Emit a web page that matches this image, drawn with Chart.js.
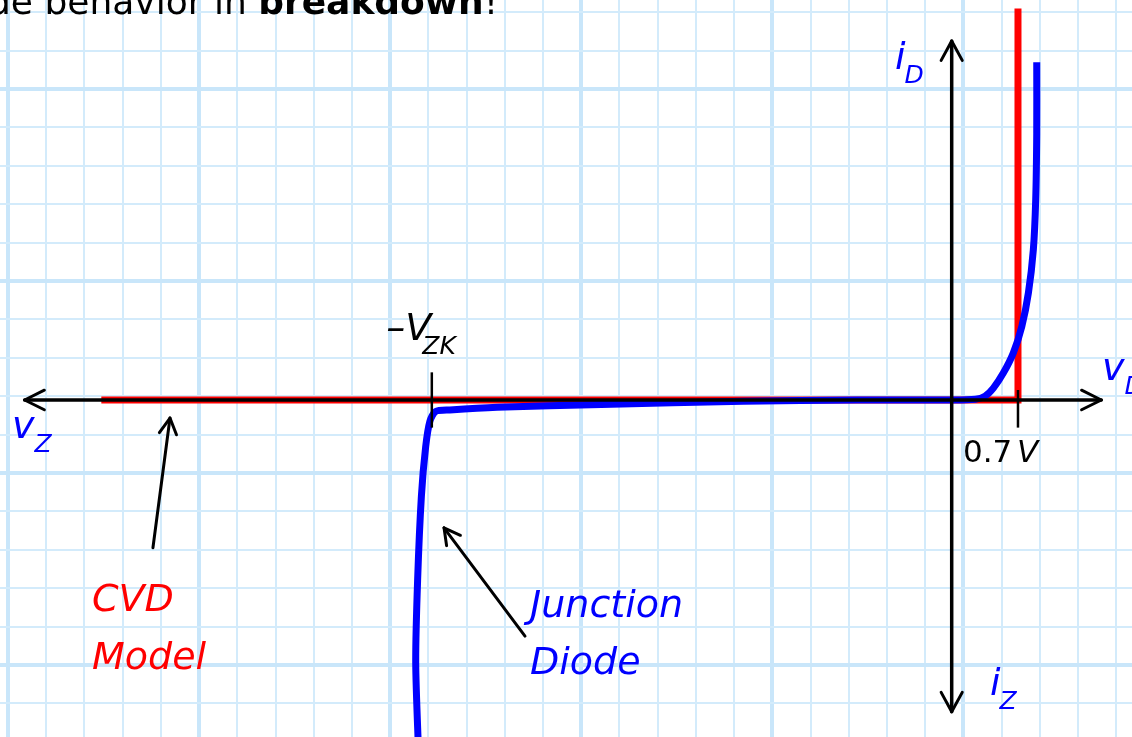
<!DOCTYPE html>
<html>
<head>
<meta charset="utf-8">
<script src="https://cdn.jsdelivr.net/npm/chart.js@4"></script>
<style>
  html, body { margin: 0; padding: 0; background: #fff; overflow: hidden; }
  #wrap { position: relative; width: 1132px; height: 737px; }
  #caption {
    position: absolute; left: -12px; top: -16px; white-space: nowrap;
    font: 36px 'DejaVu Sans', sans-serif; line-height: 36px; color: #000;
  }
</style>
</head>
<body>
<div id="wrap">
  <canvas id="ivChart" width="1132" height="737"></canvas>
  <div id="caption">de behavior in <b>breakdown</b>!</div>
</div>
<script>
// CVD model (volts, current in grid squares)
const cvdV = [-8.98, 0.7, 0.7];
const cvdI = [0, 0, 10.2];

// junction diode curve
const diodeV = [-5.63, -5.66, -5.64, -5.60, -5.555, -5.51, -5.45, -5.30, -4.8, -3.7, -2.2, -1.0, 0.0, 0.25, 0.352, 0.44, 0.545, 0.65, 0.74, 0.81, 0.862, 0.887, 0.898, 0.898];
const diodeI = [-9.2, -6.85, -4.7, -2.5, -1.22, -0.55, -0.30, -0.26, -0.19, -0.12, -0.03, 0.0, 0.0, 0.02, 0.10, 0.31, 0.70, 1.22, 1.91, 2.79, 3.91, 5.21, 6.95, 8.80];

// axes, tick marks
const axisV = [-9.79, 1.58];
const axisI = [-8.12, 9.35];
const tickV = [-5.49, 0.7];
const tickTop = [0.72, 0.26];
const tickBottom = [-0.72, -0.72];

// labels
const labels = [
  { text: 'i', sub: 'D', x: -0.60, y: 8.62, color: '#0000ff', subGap: -1 },
  { text: 'v', sub: 'D', x: 1.588, y: 0.52, color: '#0000ff', subGap: 0 },
  { text: 'v', sub: 'Z', x: -9.924, y: -1.0, color: '#0000ff', subGap: 0 },
  { text: 'i', sub: 'Z', x: 0.404, y: -7.68, color: '#0000ff', subGap: -1 },
  { text: '\u2013V', sub: 'ZK', x: -5.97, y: 1.56, color: '#000', subGap: -9 },
  { text: 'CVD', x: -9.078, y: -5.50, color: '#ff0000' },
  { text: 'Model', x: -9.078, y: -7.00, color: '#ff0000' },
  { text: 'Junction', x: -4.453, y: -5.65, color: '#0000ff' },
  { text: 'Diode', x: -4.453, y: -7.14, color: '#0000ff' }
];
const pointers = [
  { from: [-8.435, -3.85], to: [-8.255, -0.47] },
  { from: [-4.506, -6.15], to: [-5.361, -3.33] }
];

const toXY = (xs, ys) => xs.map((v, i) => ({ x: v, y: ys[i] }));

function chevron(ctx, tx, ty, ang, len, spread) {
  ctx.beginPath();
  ctx.moveTo(tx - len * Math.cos(ang - spread), ty - len * Math.sin(ang - spread));
  ctx.lineTo(tx, ty);
  ctx.lineTo(tx - len * Math.cos(ang + spread), ty - len * Math.sin(ang + spread));
  ctx.stroke();
}

const diagram = {
  id: 'diagram',
  afterDatasetsDraw(chart) {
    const { ctx, scales: { x, y } } = chart;
    const px = v => x.getPixelForValue(v), py = v => y.getPixelForValue(v);
    ctx.save();
    ctx.strokeStyle = '#000';
    ctx.lineCap = 'round';
    ctx.lineJoin = 'round';

    // axes
    ctx.lineWidth = 3.5;
    ctx.beginPath();
    ctx.moveTo(px(axisV[0]), py(0)); ctx.lineTo(px(axisV[1]), py(0));
    ctx.moveTo(px(0), py(axisI[0])); ctx.lineTo(px(0), py(axisI[1]));
    ctx.stroke();
    ctx.lineWidth = 3;
    chevron(ctx, px(axisV[0]), py(0), Math.PI, 22, 0.46);
    chevron(ctx, px(axisV[1]), py(0), 0, 22, 0.46);
    chevron(ctx, px(0), py(axisI[1]), -Math.PI / 2, 22, 0.5);
    chevron(ctx, px(0), py(axisI[0]), Math.PI / 2, 22, 0.5);

    // tick marks
    ctx.lineWidth = 2.5;
    ctx.lineCap = 'butt';
    tickV.forEach((v, i) => {
      ctx.beginPath();
      ctx.moveTo(px(v), py(tickTop[i])); ctx.lineTo(px(v), py(tickBottom[i]));
      ctx.stroke();
    });

    // pointer arrows
    ctx.lineWidth = 3;
    ctx.lineCap = 'round';
    pointers.forEach(p => {
      const x0 = px(p.from[0]), y0 = py(p.from[1]), x1 = px(p.to[0]), y1 = py(p.to[1]);
      ctx.beginPath(); ctx.moveTo(x0, y0); ctx.lineTo(x1, y1); ctx.stroke();
      chevron(ctx, x1, y1, Math.atan2(y1 - y0, x1 - x0), 18, 0.5);
    });

    // text
    ctx.textBaseline = 'alphabetic';
    labels.forEach(l => {
      ctx.fillStyle = l.color;
      ctx.font = 'italic 38px "DejaVu Sans", sans-serif';
      const x0 = px(l.x), y0 = py(l.y);
      ctx.fillText(l.text, x0, y0);
      if (l.sub) {
        const w = ctx.measureText(l.text).width;
        ctx.font = 'italic 25px "DejaVu Sans", sans-serif';
        ctx.fillText(l.sub, x0 + w + l.subGap, y0 + 14);
      }
    });
    ctx.fillStyle = '#000';
    ctx.font = '31px "DejaVu Sans", sans-serif';
    const x07 = px(0.119), y07 = py(-1.615);
    ctx.fillText('0.7', x07, y07);
    ctx.font = 'italic 31px "DejaVu Sans", sans-serif';
    ctx.fillText('V', x07 + 54, y07);
    ctx.restore();
  }
};

const gridColor = '#d3ebfb';
const gridMajor = '#c9e6fa';

new Chart(document.getElementById('ivChart'), {
  type: 'scatter',
  data: {
    datasets: [
      {
        label: 'CVD Model',
        data: toXY(cvdV, cvdI),
        showLine: true,
        borderColor: '#ff0000',
        borderWidth: 7,
        pointRadius: 0,
        tension: 0,
        order: 2
      },
      {
        label: 'Junction Diode',
        data: toXY(diodeV, diodeI),
        showLine: true,
        borderColor: '#0000ff',
        borderWidth: 7,
        pointRadius: 0,
        tension: 0.25,
        borderJoinStyle: 'round',
        order: 1
      }
    ]
  },
  options: {
    responsive: false,
    animation: false,
    events: [],
    layout: { padding: 0 },
    plugins: { legend: { display: false }, tooltip: { enabled: false } },
    scales: {
      x: { type: 'linear', min: -10.05, max: 1.904, display: false },
      y: { type: 'linear', min: -8.78, max: 10.42, display: false },
      paperX: {
        type: 'linear', axis: 'x', position: 'bottom', min: -0.209, max: 29.41,
        ticks: { display: false, stepSize: 1, includeBounds: false },
        grid: {
          drawTicks: false,
          color: c => c.tick && c.tick.value % 5 === 0 ? gridMajor : gridColor,
          lineWidth: c => c.tick && c.tick.value % 5 === 0 ? 4 : 2
        },
        border: { display: false }
      },
      paperY: {
        type: 'linear', axis: 'y', position: 'left', min: -1.875, max: 17.318,
        ticks: { display: false, stepSize: 1, includeBounds: false },
        grid: {
          drawTicks: false,
          color: c => c.tick && c.tick.value % 5 === 0 ? gridMajor : gridColor,
          lineWidth: c => c.tick && c.tick.value % 5 === 0 ? 4 : 2
        },
        border: { display: false }
      }
    }
  },
  plugins: [diagram]
});
</script>
</body>
</html>
